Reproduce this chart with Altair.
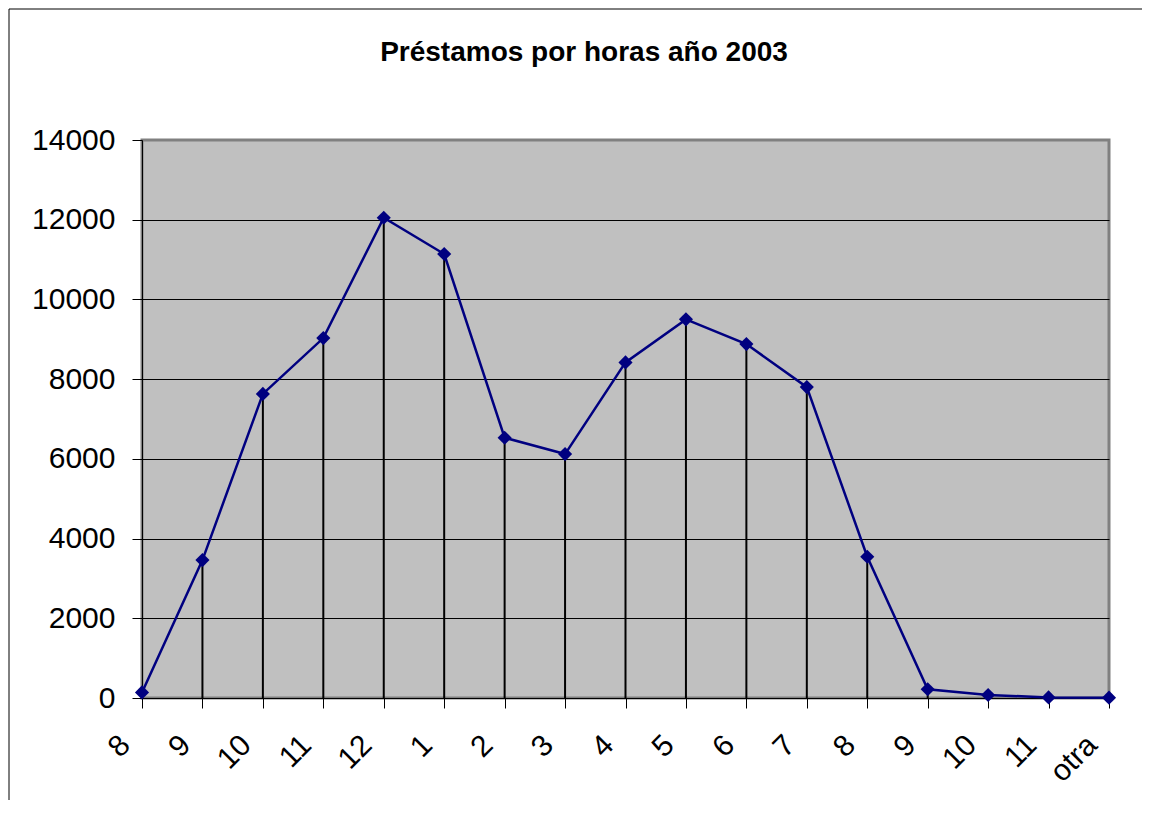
import altair as alt
import pandas as pd

labels = ["8", "9", "10", "11", "12", "1", "2", "3", "4", "5", "6", "7", "8", "9", "10", "11", "otra"]
values = [140, 3460, 7630, 9030, 12050, 11140, 6530, 6120, 8420, 9500, 8880, 7800, 3545, 220, 75, 15, 8]
y_ticks = [0, 2000, 4000, 6000, 8000, 10000, 12000, 14000]
title_text = "Préstamos por horas año 2003"

df = pd.DataFrame({"idx": list(range(len(labels))), "val": values})
label_expr = "[" + ",".join("'" + l + "'" for l in labels) + "][datum.value]"

FONT = "Liberation Sans, Arial, sans-serif"
W, H = 967, 558

x_enc = alt.X(
    "idx:O",
    scale=alt.Scale(type="point", padding=0),
    axis=alt.Axis(
        labelExpr=label_expr,
        labelAngle=-45,
        labelAlign="right",
        labelBaseline="middle",
        labelFontSize=30,
        labelFont=FONT,
        labelColor="black",
        labelPadding=32,
        labelOffset=-17,
        tickSize=10,
        tickColor="black",
        domainColor="black",
        grid=False,
        title=None,
    ),
)
y_scale = alt.Scale(domain=[0, 14000], nice=False)
y_enc = alt.Y(
    "val:Q",
    scale=y_scale,
    axis=alt.Axis(
        values=y_ticks,
        format="d",
        labelFontSize=30,
        labelFont=FONT,
        labelColor="black",
        labelPadding=17,
        tickSize=10,
        tickColor="black",
        domainColor="black",
        grid=True,
        gridColor=alt.condition("datum.value == 14000", alt.value("#808080"), alt.value("black")),
        gridWidth=1,
        title=None,
    ),
)

base = alt.Chart(df)
drops = base.mark_rule(color="black", strokeWidth=2).encode(x=x_enc, y=y_enc, y2=alt.datum(0))
line = base.mark_line(color="#000080", strokeWidth=2.5).encode(x=x_enc, y=y_enc)
pts = base.mark_point(shape="diamond", filled=True, color="#000080", size=200, opacity=1).encode(x=x_enc, y=y_enc)

deco = alt.Chart(pd.DataFrame({"t": [title_text]}))
frame_left = deco.mark_rule(color="black", strokeWidth=1).encode(
    x=alt.value(-133), y=alt.value(-131), y2=alt.value(660)
)
frame_top = deco.mark_rule(color="black", strokeWidth=1).encode(
    x=alt.value(-133), x2=alt.value(1000), y=alt.value(-131)
)
title = deco.mark_text(
    font=FONT, fontSize=28, fontWeight="bold", color="black", align="center", baseline="alphabetic"
).encode(text="t:N", x=alt.value(442), y=alt.value(-79))

chart = (
    alt.layer(drops, line, pts, frame_left, frame_top, title)
    .properties(width=W, height=H, padding={"left": 0, "top": 0, "right": 0, "bottom": 0})
    .configure(background="white", view=alt.ViewConfig(fill="#C0C0C0", stroke="#808080", strokeWidth=3))
)

chart.save("out.html", embed_options={"renderer": "svg", "actions": False})
